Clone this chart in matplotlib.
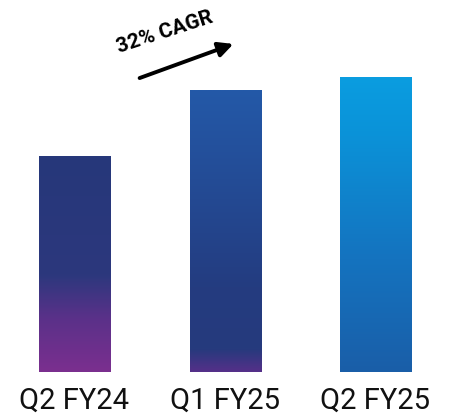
import numpy as np
import matplotlib
matplotlib.use("Agg")
import matplotlib.pyplot as plt
from matplotlib.colors import LinearSegmentedColormap
from matplotlib.patches import FancyArrowPatch

# data (bar heights, relative units)
quarters = ["Q2 FY24", "Q1 FY25", "Q2 FY25"]
values = [216, 282, 295]
cagr_label = "32% CAGR"

# gradient stops per bar, (position from bottom, colour)
bar_gradients = [
    [(0.0, "#7b2f8f"), (0.25, "#5a3189"), (0.45, "#2c387d"), (1.0, "#26377a")],
    [(0.0, "#553089"), (0.08, "#263a7d"), (0.3, "#243c80"), (1.0, "#2359a8")],
    [(0.0, "#1a5ea8"), (0.4, "#1474c0"), (0.8, "#0b92d8"), (1.0, "#0a9de0")],
]

plt.rcParams["font.family"] = ["Roboto", "DejaVu Sans"]

fig = plt.figure(figsize=(4.51, 4.2), dpi=100)
ax = fig.add_axes([0, 48 / 420, 1, 372 / 420])
ax.set_xlim(-0.5, 2.5)
ax.set_ylim(0, 372)

width = 0.478
x = np.arange(len(quarters))
bars = ax.bar(x, values, width=width, color="none", edgecolor="none")

for bar, stops in zip(bars, bar_gradients):
    cmap = LinearSegmentedColormap.from_list("g", stops)
    grad = np.linspace(0, 1, 256).reshape(-1, 1)
    x0 = bar.get_x()
    h = bar.get_height()
    im = ax.imshow(grad, cmap=cmap, origin="lower", aspect="auto",
                   extent=[x0, x0 + bar.get_width(), 0, h], zorder=2)
    im.set_clip_path(bar)

ax.set_xticks([])
ax.set_yticks([])
for s in ax.spines.values():
    s.set_visible(False)

for xi, q in zip(x, quarters):
    fig.text((74 + xi * 150.5) / 451, 1 - 401 / 420, q, ha="center", va="center",
             fontsize=21, color="#111111")

# CAGR arrow and label
arrow = FancyArrowPatch((137 / 451, 1 - 79 / 420), (236 / 451, 1 - 43 / 420),
                        transform=fig.transFigure, arrowstyle="-|>",
                        mutation_scale=22, lw=2.8, color="black")
fig.patches.append(arrow)
fig.text(165 / 451, 1 - 32 / 420, cagr_label, ha="center", va="center",
         rotation=18, fontsize=15, fontweight="bold", fontstretch="condensed",
         color="black")

ax.set_facecolor("white")
fig.savefig("out.png", dpi=100, facecolor="white")
